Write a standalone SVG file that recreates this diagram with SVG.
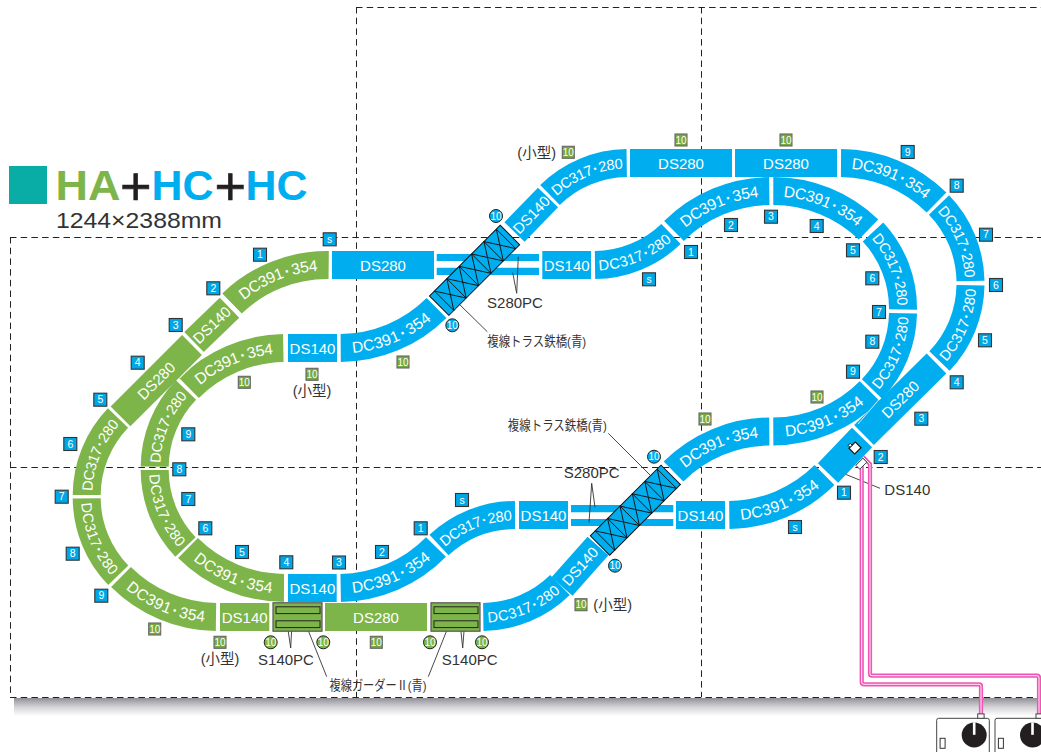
<svg xmlns="http://www.w3.org/2000/svg" width="1041" height="752" viewBox="0 0 1041 752">
<style>
text{font-family:"Liberation Sans","Noto Sans CJK JP",sans-serif}
.t{fill:none;stroke-width:28}
.g{stroke:#7eb54a}
.c{stroke:#00aeef}
.l{fill:#fff;font-size:15px;text-anchor:middle}
.l2{fill:#fff;font-size:14.6px;text-anchor:middle}
.l3{fill:#fff;font-size:15.6px;text-anchor:middle}
.d{fill:none;stroke:#222;stroke-width:1;stroke-dasharray:6.5 4.2}
.lead{fill:none;stroke:#333;stroke-width:.9}
.lab{fill:#333;font-size:15px;text-anchor:middle}
.jp{fill:#333;font-size:13.5px;text-anchor:middle}
.sz{fill:#333;font-size:14.5px;text-anchor:middle}
.bb{fill:#00a7e6;stroke:#333;stroke-width:1.1}
.bg{fill:#76a93f;stroke:#666;stroke-width:1.1}
.bt{fill:#fff;font-size:10.5px;text-anchor:middle}
.bn{fill:#fff;font-size:10px;text-anchor:middle}
.cc{fill:#00aeef;stroke:#222;stroke-width:1}
.cg{fill:#7eb54a;stroke:#222;stroke-width:1}
.w1{fill:none;stroke:#ef55b4;stroke-width:4.2}
.w2{fill:none;stroke:#fff;stroke-width:.9}
.hair{stroke:#fff;stroke-width:.8;fill:none}
.ctl{fill:#fff;stroke:#444;stroke-width:1}
.pl{fill:#7eb54a;stroke:#555;stroke-width:1.2}
.pi{fill:none;stroke:#222;stroke-width:1}
.dot{font-weight:bold}
</style>
<defs>
<linearGradient id="sh" x1="0" y1="0" x2="0" y2="1"><stop offset="0" stop-color="#8f8f96"/><stop offset=".5" stop-color="#d4d4d8"/><stop offset="1" stop-color="#fff"/></linearGradient>
<g id="truss">
<rect x="0" y="-13.7" width="100" height="27.4" fill="#00aeef" stroke="#111" stroke-width="1"/>
<path fill="none" stroke="#111" stroke-width=".9" d="M7-13.7V13.7M24.5-13.7V13.7M42-13.7V13.7M59.5-13.7V13.7M77-13.7V13.7M94.5-13.7V13.7M7-13.7L24.5 13.7M7 13.7L24.5-13.7M24.5-13.7L42 13.7M24.5 13.7L42-13.7M42-13.7L59.5 13.7M42 13.7L59.5-13.7M59.5-13.7L77 13.7M59.5 13.7L77-13.7M77-13.7L94.5 13.7M77 13.7L94.5-13.7"/>
</g>
<g id="plate">
<rect class="pl" x="0" y="0" width="49" height="28.4"/>
<rect class="pi" x="3" y="4" width="44" height="6.8"/>
<rect class="pi" x="3" y="18" width="44" height="6.8"/>
</g>
<g id="ctrl">
<rect class="ctl" x="0" y="0" width="52.6" height="44" rx="2"/>
<rect class="ctl" x="41" y="-4.4" width="6.4" height="4.4"/>
<circle cx="37.5" cy="16.7" r="12.5" fill="#231f20"/>
<rect x="36.2" y="4" width="2.6" height="12.5" fill="#fff"/>
<rect x="3.4" y="20" width="5" height="10" fill="#fff" stroke="#333" stroke-width="1"/>
</g>
</defs>

<g id="grid">
<rect x="14" y="698" width="1027" height="18" fill="url(#sh)"/>
<path class="d" d="M356 7.500H1041M10 237.500H1041M10 467.500H1041M10 697.500H1041M10.500 237V697M356.500 7V697M701.500 7V697"/>
</g>

<g id="title">
<rect x="9" y="166" width="38" height="38" fill="#0aada6"/>
<text x="55.500" y="200" font-size="42" font-weight="bold" fill="#7eb54a" textLength="65" lengthAdjust="spacingAndGlyphs">HA</text>
<text x="120" y="205" font-size="54" stroke="#231f20" stroke-width=".6" fill="#231f20">+</text>
<text x="151.500" y="200" font-size="42" font-weight="bold" fill="#00aeef" textLength="62" lengthAdjust="spacingAndGlyphs">HC</text>
<text x="214.500" y="205" font-size="54" stroke="#231f20" stroke-width=".6" fill="#231f20">+</text>
<text x="245.500" y="200" font-size="42" font-weight="bold" fill="#00aeef" textLength="62" lengthAdjust="spacingAndGlyphs">HC</text>
<text x="56" y="227.500" font-size="21.500" fill="#333" textLength="166" lengthAdjust="spacingAndGlyphs">1244×2388mm</text>
</g>

<g id="connectors">
<path class="lead" d="M836.700 470.700L880 488.300M456.700 301.700L487.300 331.700M608.300 433.300L650 475M292.700 609.300L290.700 648L287.300 625M465.700 609.300L462.700 648L460.300 625M308.300 630.700L326.700 676.700M446.700 630.700L428.300 676.700"/>
</g>

<g id="tracks">
<g id="rails1"><path fill="#00aeef" d="M436.700 254H539V261H436.700ZM436.700 267.700H539V275H436.700Z"/></g>
<g id="rails2"><path fill="#00aeef" d="M571 505H673.300V512.300H571ZM571 519H673.300V526H571Z"/></g>

<g id="t1"><path id="p1" class="t g" d="M232 303.500A137 137 0 0 1 328.700 265"/><text class="l3" dy="5.500"><textPath href="#p1" startOffset="50%">DC391<tspan class="dot" dx="2">·</tspan><tspan dx="2">354</tspan></textPath></text></g>
<g id="t2"><path id="p2" class="t g" d="M194 342L229.500 307.700"/><text class="l" dy="5.500"><textPath href="#p2" startOffset="50%">DS140</textPath></text></g>
<g id="t3"><path id="p3" class="t g" d="M120.500 416.300L192 345"/><text class="l" dy="5.500"><textPath href="#p3" startOffset="50%">DS280</textPath></text></g>
<g id="t4"><path id="p4" class="t g" d="M86.700 495A112 112 0 0 1 118 418"/><text class="l2" dy="5.500"><textPath href="#p4" startOffset="50%">DC317<tspan class="dot" dx="1">·</tspan><tspan dx="1">280</tspan></textPath></text></g>
<g id="t5"><path id="p5" class="t g" d="M86.700 498.300A112 112 0 0 0 118.300 575.300"/><text class="l2" dy="5.500"><textPath href="#p5" startOffset="50%">DC317<tspan class="dot" dx="1">·</tspan><tspan dx="1">280</tspan></textPath></text></g>
<g id="t6"><path id="p6" class="t g" d="M121 577A137 137 0 0 0 216 617"/><text class="l3" dy="5.500"><textPath href="#p6" startOffset="50%">DC391<tspan class="dot" dx="2">·</tspan><tspan dx="2">354</tspan></textPath></text></g>
<g id="t7"><path id="p7" class="t g" d="M220 617H269.300"/><text class="l" dy="5.500"><textPath href="#p7" startOffset="50%">DS140</textPath></text></g>
<g id="t8"><path id="p8" class="t g" d="M325 617H427"/><text class="l" dy="5.500"><textPath href="#p8" startOffset="50%">DS280</textPath></text></g>
<g id="t9"><path id="p9" class="t c" d="M483.300 617A112 112 0 0 0 560 585"/><text class="l2" dy="5.500"><textPath href="#p9" startOffset="50%">DC317<tspan class="dot" dx="1">·</tspan><tspan dx="1">280</tspan></textPath></text></g>
<g id="t10"><path id="p10" class="t c" d="M562 586.500L598 546"/><text class="l" dy="5.500"><textPath href="#p10" startOffset="50%">DS140</textPath></text></g>
<g id="t11"><path id="p11" class="t c" d="M673.500 471.500A137 137 0 0 1 769.300 431.500"/><text class="l3" dy="5.500"><textPath href="#p11" startOffset="50%">DC391<tspan class="dot" dx="2">·</tspan><tspan dx="2">354</tspan></textPath></text></g>
<g id="t12"><path id="p12" class="t c" d="M773.300 431.500A137 137 0 0 0 869.700 391.200"/><text class="l3" dy="5.500"><textPath href="#p12" startOffset="50%">DC391<tspan class="dot" dx="2">·</tspan><tspan dx="2">354</tspan></textPath></text></g>
<g id="t13"><path id="p13" class="t c" d="M872 389A112 112 0 0 0 903 313.300"/><text class="l2" dy="5.500"><textPath href="#p13" startOffset="50%">DC317<tspan class="dot" dx="1">·</tspan><tspan dx="1">280</tspan></textPath></text></g>
<g id="t14"><path id="p14" class="t c" d="M873 232A112 112 0 0 1 903 309.500"/><text class="l2" dy="5.500"><textPath href="#p14" startOffset="50%">DC317<tspan class="dot" dx="1">·</tspan><tspan dx="1">280</tspan></textPath></text></g>
<g id="t15"><path id="p15" class="t c" d="M773.300 191A137 137 0 0 1 868.500 229.500"/><text class="l3" dy="5.500"><textPath href="#p15" startOffset="50%">DC391<tspan class="dot" dx="2">·</tspan><tspan dx="2">354</tspan></textPath></text></g>
<g id="t16"><path id="p16" class="t c" d="M674 231A137 137 0 0 1 769.300 191"/><text class="l3" dy="5.500"><textPath href="#p16" startOffset="50%">DC391<tspan class="dot" dx="2">·</tspan><tspan dx="2">354</tspan></textPath></text></g>
<g id="t17"><path id="p17" class="t c" d="M595 265A112 112 0 0 0 671 234"/><text class="l2" dy="5.500"><textPath href="#p17" startOffset="50%">DC317<tspan class="dot" dx="1">·</tspan><tspan dx="1">280</tspan></textPath></text></g>
<g id="t18"><path id="p18" class="t c" d="M542.300 265H591"/><text class="l" dy="5.500"><textPath href="#p18" startOffset="50%">DS140</textPath></text></g>
<g id="t19"><path id="p19" class="t c" d="M332 265H434"/><text class="l" dy="5.500"><textPath href="#p19" startOffset="50%">DS280</textPath></text></g>
<g id="t20"><path id="p20" class="t c" d="M514.500 232L548 197.500"/><text class="l" dy="5.500"><textPath href="#p20" startOffset="50%">DS140</textPath></text></g>
<g id="t21"><path id="p21" class="t c" d="M550 195A112 112 0 0 1 626.700 163"/><text class="l2" dy="5.500"><textPath href="#p21" startOffset="50%">DC317<tspan class="dot" dx="1">·</tspan><tspan dx="1">280</tspan></textPath></text></g>
<g id="t22"><path id="p22" class="t c" d="M630 163H732"/><text class="l" dy="5.500"><textPath href="#p22" startOffset="50%">DS280</textPath></text></g>
<g id="t23"><path id="p23" class="t c" d="M735 163H837"/><text class="l" dy="5.500"><textPath href="#p23" startOffset="50%">DS280</textPath></text></g>
<g id="t24"><path id="p24" class="t c" d="M841 163A137 137 0 0 1 936.500 202.500"/><text class="l3" dy="5.500"><textPath href="#p24" startOffset="50%">DC391<tspan class="dot" dx="2">·</tspan><tspan dx="2">354</tspan></textPath></text></g>
<g id="t25"><path id="p25" class="t c" d="M939 205A112 112 0 0 1 970.500 281"/><text class="l2" dy="5.500"><textPath href="#p25" startOffset="50%">DC317<tspan class="dot" dx="1">·</tspan><tspan dx="1">280</tspan></textPath></text></g>
<g id="t26"><path id="p26" class="t c" d="M939.500 361A112 112 0 0 0 970.500 285.300"/><text class="l2" dy="5.500"><textPath href="#p26" startOffset="50%">DC317<tspan class="dot" dx="1">·</tspan><tspan dx="1">280</tspan></textPath></text></g>
<g id="t27"><path id="p27" class="t c" d="M864 435L936.500 363.500"/><text class="l" dy="5.500"><textPath href="#p27" startOffset="50%">DS280</textPath></text></g>
<g id="t28"><path class="t c" d="M828 473L862 437.500"/></g>
<g id="t29"><path id="p29" class="t c" d="M729.300 515A137 137 0 0 0 824.500 475"/><text class="l3" dy="5.500"><textPath href="#p29" startOffset="50%">DC391<tspan class="dot" dx="2">·</tspan><tspan dx="2">354</tspan></textPath></text></g>
<g id="t30"><path id="p30" class="t c" d="M676 515H725"/><text class="l" dy="5.500"><textPath href="#p30" startOffset="50%">DS140</textPath></text></g>
<g id="t31"><path id="p31" class="t c" d="M519 515H568"/><text class="l" dy="5.500"><textPath href="#p31" startOffset="50%">DS140</textPath></text></g>
<g id="t32"><path id="p32" class="t c" d="M439 545A112 112 0 0 1 515 515"/><text class="l2" dy="5.500"><textPath href="#p32" startOffset="50%">DC317<tspan class="dot" dx="1">·</tspan><tspan dx="1">280</tspan></textPath></text></g>
<g id="t33"><path id="p33" class="t c" d="M340.700 588A137 137 0 0 0 436 547"/><text class="l3" dy="5.500"><textPath href="#p33" startOffset="50%">DC391<tspan class="dot" dx="2">·</tspan><tspan dx="2">354</tspan></textPath></text></g>
<g id="t34"><path id="p34" class="t c" d="M288 588H336.700"/><text class="l" dy="5.500"><textPath href="#p34" startOffset="50%">DS140</textPath></text></g>
<g id="t35"><path id="p35" class="t g" d="M188 548A137 137 0 0 0 284 588"/><text class="l3" dy="5.500"><textPath href="#p35" startOffset="50%">DC391<tspan class="dot" dx="2">·</tspan><tspan dx="2">354</tspan></textPath></text></g>
<g id="t36"><path id="p36" class="t g" d="M154.700 470A112 112 0 0 0 185.500 547"/><text class="l2" dy="5.500"><textPath href="#p36" startOffset="50%">DC317<tspan class="dot" dx="1">·</tspan><tspan dx="1">280</tspan></textPath></text></g>
<g id="t37"><path id="p37" class="t g" d="M154.700 466.700A112 112 0 0 1 186 390"/><text class="l2" dy="5.500"><textPath href="#p37" startOffset="50%">DC317<tspan class="dot" dx="1">·</tspan><tspan dx="1">280</tspan></textPath></text></g>
<g id="t38"><path id="p38" class="t g" d="M189 388A137 137 0 0 1 283.300 348"/><text class="l3" dy="5.500"><textPath href="#p38" startOffset="50%">DC391<tspan class="dot" dx="2">·</tspan><tspan dx="2">354</tspan></textPath></text></g>
<g id="t39"><path id="p39" class="t c" d="M288 348H337"/><text class="l" dy="5.500"><textPath href="#p39" startOffset="50%">DS140</textPath></text></g>
<g id="t40"><path id="p40" class="t c" d="M340.700 348A137 137 0 0 0 436.500 308"/><text class="l3" dy="5.500"><textPath href="#p40" startOffset="50%">DC391<tspan class="dot" dx="2">·</tspan><tspan dx="2">354</tspan></textPath></text></g>

<path class="hair" d="M202 356.700L180 378M880 398.300L858 424"/>
<g id="truss1"><use href="#truss" transform="translate(439.200 305.700) rotate(-45)"/></g>
<g id="truss2"><use href="#truss" transform="translate(600 545.500) rotate(-45)"/></g>
<g id="plate1"><use href="#plate" transform="translate(273 602.800)"/></g>
<g id="plate2"><use href="#plate" transform="translate(431 602.800)"/></g>
</g>

<g id="wiring">
<path class="w1" d="M861.700 466V682.300Q861.700 684.300 863.700 684.300H979Q981 684.300 981 686.300V715"/>
<path class="w2" d="M861.700 466V682.300Q861.700 684.300 863.700 684.300H979Q981 684.300 981 686.300V715"/>
<path class="w1" d="M863 457L870 464V673.700Q870 675.700 872 675.700H1037Q1039 675.700 1039 677.700V715"/>
<path class="w2" d="M863 457L870 464V673.700Q870 675.700 872 675.700H1037Q1039 675.700 1039 677.700V715"/>
<rect x="856.300" y="461" width="10" height="5.500" transform="rotate(-45 861.300 463.700)" fill="#fff" stroke="#333" stroke-width=".9"/>
<g transform="rotate(-45 855 448)"><rect x="850.500" y="444" width="9" height="8" fill="#fff" stroke="#111" stroke-width="1.200"/><rect x="852" y="441.300" width="3" height="2.700" fill="#fff" stroke="#111" stroke-width=".9"/></g>
</g>

<g id="controller1"><use href="#ctrl" transform="translate(936.700 718.300)"/></g>
<g id="controller2"><use href="#ctrl" transform="translate(995 718.300)"/></g>

<g id="labels">
<text class="lab" x="515" y="308">S280PC</text>
<text class="lab" x="591.700" y="478">S280PC</text>
<text class="lab" x="286" y="664.500">S140PC</text>
<text class="lab" x="469.700" y="664.500">S140PC</text>
<text class="lab" x="907.300" y="494.500">DS140</text>
<text class="jp" x="536.700" y="345.500" textLength="99" lengthAdjust="spacingAndGlyphs">複線トラス鉄橋(青)</text>
<text class="jp" x="557.300" y="429.500" textLength="99" lengthAdjust="spacingAndGlyphs">複線トラス鉄橋(青)</text>
<text class="jp" x="378" y="690" textLength="97" lengthAdjust="spacingAndGlyphs">複線ガーダーⅡ(青)</text>
<text class="sz" x="312" y="395.500">(小型)</text>
<text class="sz" x="220" y="663.500">(小型)</text>
<text class="sz" x="536.700" y="157.500">(小型)</text>
<text class="sz" x="612.700" y="610">(小型)</text>
</g>

<g id="badges">
<g id="a1" transform="translate(260 254.700)"><rect class="bb" x="-6.500" y="-6.500" width="13" height="13"/><text class="bt" y="3.700">1</text></g>
<g id="as" transform="translate(329.700 239.300)"><rect class="bb" x="-6.500" y="-6.500" width="13" height="13"/><text class="bt" y="3.700">s</text></g>
<g id="a2" transform="translate(213.300 288.300)"><rect class="bb" x="-6.500" y="-6.500" width="13" height="13"/><text class="bt" y="3.700">2</text></g>
<g id="a3" transform="translate(175.700 325)"><rect class="bb" x="-6.500" y="-6.500" width="13" height="13"/><text class="bt" y="3.700">3</text></g>
<g id="a4" transform="translate(137.700 362.700)"><rect class="bb" x="-6.500" y="-6.500" width="13" height="13"/><text class="bt" y="3.700">4</text></g>
<g id="a5" transform="translate(100.300 399.700)"><rect class="bb" x="-6.500" y="-6.500" width="13" height="13"/><text class="bt" y="3.700">5</text></g>
<g id="a6" transform="translate(70.300 444)"><rect class="bb" x="-6.500" y="-6.500" width="13" height="13"/><text class="bt" y="3.700">6</text></g>
<g id="a7" transform="translate(61.700 496.700)"><rect class="bb" x="-6.500" y="-6.500" width="13" height="13"/><text class="bt" y="3.700">7</text></g>
<g id="a8" transform="translate(72.700 553.700)"><rect class="bb" x="-6.500" y="-6.500" width="13" height="13"/><text class="bt" y="3.700">8</text></g>
<g id="a9" transform="translate(101.300 595.700)"><rect class="bb" x="-6.500" y="-6.500" width="13" height="13"/><text class="bt" y="3.700">9</text></g>
<g id="b9" transform="translate(188.300 434.300)"><rect class="bb" x="-6.500" y="-6.500" width="13" height="13"/><text class="bt" y="3.700">9</text></g>
<g id="b8" transform="translate(179.300 469.300)"><rect class="bb" x="-6.500" y="-6.500" width="13" height="13"/><text class="bt" y="3.700">8</text></g>
<g id="b7" transform="translate(188.300 499)"><rect class="bb" x="-6.500" y="-6.500" width="13" height="13"/><text class="bt" y="3.700">7</text></g>
<g id="b6" transform="translate(205.300 528.300)"><rect class="bb" x="-6.500" y="-6.500" width="13" height="13"/><text class="bt" y="3.700">6</text></g>
<g id="b5" transform="translate(242 552)"><rect class="bb" x="-6.500" y="-6.500" width="13" height="13"/><text class="bt" y="3.700">5</text></g>
<g id="b4" transform="translate(286.300 562.300)"><rect class="bb" x="-6.500" y="-6.500" width="13" height="13"/><text class="bt" y="3.700">4</text></g>
<g id="b3" transform="translate(339 562.500)"><rect class="bb" x="-6.500" y="-6.500" width="13" height="13"/><text class="bt" y="3.700">3</text></g>
<g id="b2" transform="translate(382 552)"><rect class="bb" x="-6.500" y="-6.500" width="13" height="13"/><text class="bt" y="3.700">2</text></g>
<g id="b1" transform="translate(420.700 528.300)"><rect class="bb" x="-6.500" y="-6.500" width="13" height="13"/><text class="bt" y="3.700">1</text></g>
<g id="bs" transform="translate(462 500)"><rect class="bb" x="-6.500" y="-6.500" width="13" height="13"/><text class="bt" y="3.700">s</text></g>
<g id="c1" transform="translate(691 252)"><rect class="bb" x="-6.500" y="-6.500" width="13" height="13"/><text class="bt" y="3.700">1</text></g>
<g id="cs" transform="translate(649 279.300)"><rect class="bb" x="-6.500" y="-6.500" width="13" height="13"/><text class="bt" y="3.700">s</text></g>
<g id="c2" transform="translate(731 225)"><rect class="bb" x="-6.500" y="-6.500" width="13" height="13"/><text class="bt" y="3.700">2</text></g>
<g id="c3" transform="translate(771 216.700)"><rect class="bb" x="-6.500" y="-6.500" width="13" height="13"/><text class="bt" y="3.700">3</text></g>
<g id="c4" transform="translate(816.700 226)"><rect class="bb" x="-6.500" y="-6.500" width="13" height="13"/><text class="bt" y="3.700">4</text></g>
<g id="c5" transform="translate(853 250.300)"><rect class="bb" x="-6.500" y="-6.500" width="13" height="13"/><text class="bt" y="3.700">5</text></g>
<g id="c6" transform="translate(872.300 278.300)"><rect class="bb" x="-6.500" y="-6.500" width="13" height="13"/><text class="bt" y="3.700">6</text></g>
<g id="c7" transform="translate(879 312)"><rect class="bb" x="-6.500" y="-6.500" width="13" height="13"/><text class="bt" y="3.700">7</text></g>
<g id="c8" transform="translate(872.300 341.700)"><rect class="bb" x="-6.500" y="-6.500" width="13" height="13"/><text class="bt" y="3.700">8</text></g>
<g id="c9" transform="translate(853 371.700)"><rect class="bb" x="-6.500" y="-6.500" width="13" height="13"/><text class="bt" y="3.700">9</text></g>
<g id="d9" transform="translate(907.700 152)"><rect class="bb" x="-6.500" y="-6.500" width="13" height="13"/><text class="bt" y="3.700">9</text></g>
<g id="d8" transform="translate(956.700 185.700)"><rect class="bb" x="-6.500" y="-6.500" width="13" height="13"/><text class="bt" y="3.700">8</text></g>
<g id="d7" transform="translate(986 234.700)"><rect class="bb" x="-6.500" y="-6.500" width="13" height="13"/><text class="bt" y="3.700">7</text></g>
<g id="d6" transform="translate(996 285)"><rect class="bb" x="-6.500" y="-6.500" width="13" height="13"/><text class="bt" y="3.700">6</text></g>
<g id="d5" transform="translate(985 340.300)"><rect class="bb" x="-6.500" y="-6.500" width="13" height="13"/><text class="bt" y="3.700">5</text></g>
<g id="d4" transform="translate(956.700 382.300)"><rect class="bb" x="-6.500" y="-6.500" width="13" height="13"/><text class="bt" y="3.700">4</text></g>
<g id="d3" transform="translate(921.300 418.700)"><rect class="bb" x="-6.500" y="-6.500" width="13" height="13"/><text class="bt" y="3.700">3</text></g>
<g id="d2" transform="translate(880.700 457)"><rect class="bb" x="-6.500" y="-6.500" width="13" height="13"/><text class="bt" y="3.700">2</text></g>
<g id="d1" transform="translate(844 492.700)"><rect class="bb" x="-6.500" y="-6.500" width="13" height="13"/><text class="bt" y="3.700">1</text></g>
<g id="ds" transform="translate(795 527)"><rect class="bb" x="-6.500" y="-6.500" width="13" height="13"/><text class="bt" y="3.700">s</text></g>

<g id="g1" transform="translate(244.300 382.300)"><rect class="bg" x="-6" y="-6" width="12" height="12"/><text class="bn" y="3.500">10</text></g>
<g id="g2" transform="translate(312 374.300)"><rect class="bg" x="-6" y="-6" width="12" height="12"/><text class="bn" y="3.500">10</text></g>
<g id="g3" transform="translate(403 362)"><rect class="bg" x="-6" y="-6" width="12" height="12"/><text class="bn" y="3.500">10</text></g>
<g id="g4" transform="translate(154.700 629)"><rect class="bg" x="-6" y="-6" width="12" height="12"/><text class="bn" y="3.500">10</text></g>
<g id="g5" transform="translate(220 642.300)"><rect class="bg" x="-6" y="-6" width="12" height="12"/><text class="bn" y="3.500">10</text></g>
<g id="g6" transform="translate(376.300 642.300)"><rect class="bg" x="-6" y="-6" width="12" height="12"/><text class="bn" y="3.500">10</text></g>
<g id="g7" transform="translate(581 604.700)"><rect class="bg" x="-6" y="-6" width="12" height="12"/><text class="bn" y="3.500">10</text></g>
<g id="g8" transform="translate(568.300 152.300)"><rect class="bg" x="-6" y="-6" width="12" height="12"/><text class="bn" y="3.500">10</text></g>
<g id="g9" transform="translate(681 140)"><rect class="bg" x="-6" y="-6" width="12" height="12"/><text class="bn" y="3.500">10</text></g>
<g id="g10" transform="translate(786 140)"><rect class="bg" x="-6" y="-6" width="12" height="12"/><text class="bn" y="3.500">10</text></g>
<g id="g11" transform="translate(817 397)"><rect class="bg" x="-6" y="-6" width="12" height="12"/><text class="bn" y="3.500">10</text></g>
<g id="g12" transform="translate(705 419)"><rect class="bg" x="-6" y="-6" width="12" height="12"/><text class="bn" y="3.500">10</text></g>

<g id="k1" transform="translate(496 216)"><circle class="cc" r="6.500"/><text class="bn" y="3.500">10</text></g>
<g id="k2" transform="translate(452.300 325.300)"><circle class="cc" r="6.500"/><text class="bn" y="3.500">10</text></g>
<g id="k3" transform="translate(654 456.700)"><circle class="cc" r="6.500"/><text class="bn" y="3.500">10</text></g>
<g id="k4" transform="translate(615 565.700)"><circle class="cc" r="6.500"/><text class="bn" y="3.500">10</text></g>
<g id="k5" transform="translate(270.700 642.300)"><circle class="cg" r="6.500"/><text class="bn" y="3.500">10</text></g>
<g id="k6" transform="translate(323.300 642.300)"><circle class="cg" r="6.500"/><text class="bn" y="3.500">10</text></g>
<g id="k7" transform="translate(430 642.300)"><circle class="cg" r="6.500"/><text class="bn" y="3.500">10</text></g>
<g id="k8" transform="translate(482 642.300)"><circle class="cg" r="6.500"/><text class="bn" y="3.500">10</text></g>
</g>

<g id="overlay-leaders">
<path class="lead" d="M518.300 256.700L516.700 293.300L512.700 272.700M591.700 483.300L589 522.700M591.700 483.300L595 507.300"/>
</g>
</svg>
